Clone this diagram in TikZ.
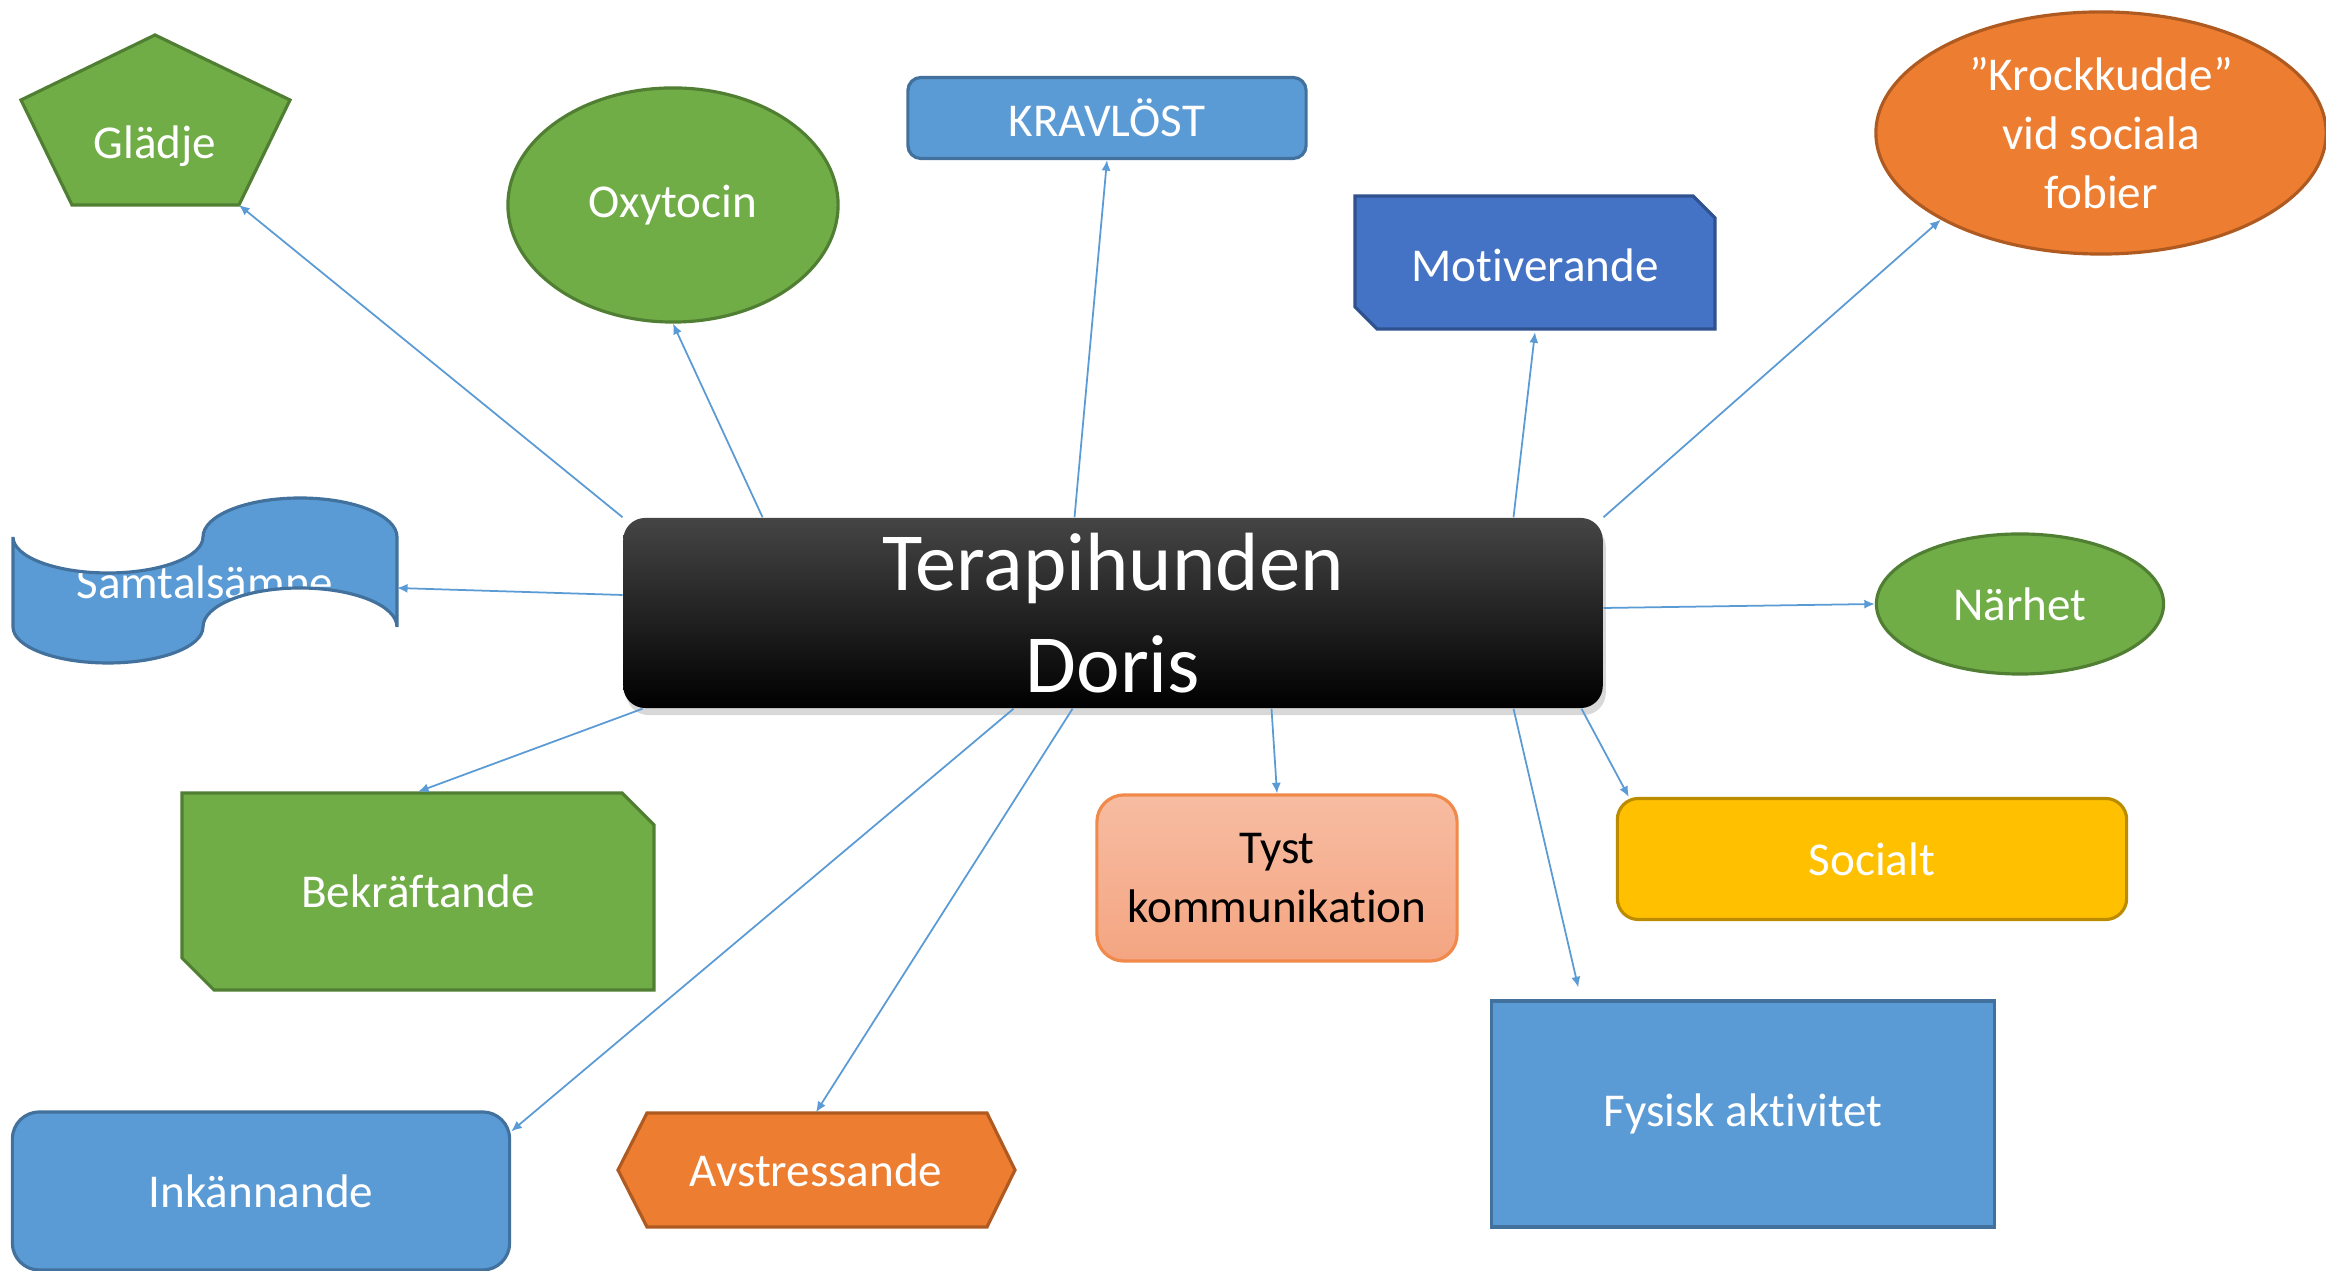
\documentclass[tikz,border=0pt]{standalone}
\usepackage{fontspec}
\setmainfont[Ligatures={NoCommon}]{Carlito}
\usetikzlibrary{shapes.geometric, arrows.meta, positioning, calc, shadows}
\definecolor{leafgreen}{HTML}{70AD47}
\definecolor{leafgreendark}{HTML}{507E32}
\definecolor{skyblue}{HTML}{5B9BD5}
\definecolor{skybluedark}{HTML}{41719C}
\definecolor{royalblue}{HTML}{4472C4}
\definecolor{royalbluedark}{HTML}{2F528F}
\definecolor{tangerine}{HTML}{ED7D31}
\definecolor{tangerinedark}{HTML}{AE5A21}
\definecolor{sungold}{HTML}{FFC000}
\definecolor{sungolddark}{HTML}{BC8C00}
\definecolor{peachtop}{HTML}{F7BCA2}
\definecolor{peachbottom}{HTML}{F4A581}
\definecolor{peachdark}{HTML}{F0894A}
% outline of the wavy banner
\newcommand{\samtalwave}{(13,537) arc[start angle=180, end angle=0, x radius=95, y radius=36]
    arc[start angle=180, end angle=360, x radius=97, y radius=39] -- (397,627)
    arc[start angle=360, end angle=180, x radius=97, y radius=39]
    arc[start angle=0, end angle=180, x radius=95, y radius=36] -- cycle}

\begin{document}
\begin{tikzpicture}[x=0.01cm, y=-0.01cm]
        \tikzstyle{txt} = [text=white, font=\fontsize{13.4}{16.7}\selectfont, align=center, inner sep=0pt]
        \tikzstyle{idea} = [txt, line width=0.9pt]
        \tikzstyle{link} = [draw=skyblue, line width=0.5pt, -{Latex[length=3pt,width=2.6pt]}]

        \useasboundingbox[fill=white] (0,0) rectangle (2326,1271);

        % the dog in the middle
        \node[rectangle, rounded corners=0.22cm, minimum width=9.79cm, minimum height=1.90cm,
              top color=black!73, middle color=black, bottom color=black,
              drop shadow={shadow xshift=0.03cm, shadow yshift=-0.07cm, opacity=0.3},
              text=white, align=center, font=\fontsize{23.5}{29}\selectfont]
              (doris) at (1113,613) {Terapihunden\\Doris};

        % ellipses and boxes
        \node[idea, ellipse, fill=leafgreen, draw=leafgreendark, minimum width=3.30cm, minimum height=2.34cm] (oxy) at (673,205) {Oxytocin};
        \node[idea, rectangle, rounded corners=0.13cm, fill=skyblue, draw=skybluedark, minimum width=3.98cm, minimum height=0.81cm] (krav) at (1107,118) {KRAVLÖST};
        \node[idea, ellipse, fill=tangerine, draw=tangerinedark, minimum width=4.50cm, minimum height=2.42cm] (krock) at (2101,133) {”Krockkudde”\\vid sociala\\fobier};
        \node[idea, ellipse, fill=leafgreen, draw=leafgreendark, minimum width=2.87cm, minimum height=1.40cm] (narhet) at (2020,604) {Närhet};
        \node[idea, rectangle, rounded corners=0.21cm, fill=sungold, draw=sungolddark, minimum width=5.09cm, minimum height=1.21cm] (soc) at (1872,859) {Socialt};
        \node[idea, rectangle, rounded corners=0.27cm, top color=peachtop, bottom color=peachbottom, draw=peachdark, text=black, minimum width=3.60cm, minimum height=1.66cm] (tyst) at (1277,878) {Tyst\\kommunikation};
        \node[idea, rectangle, fill=skyblue, draw=skybluedark, minimum width=5.02cm, minimum height=2.26cm] (fys) at (1743,1114) {Fysisk aktivitet};
        \node[idea, rectangle, rounded corners=0.27cm, fill=skyblue, draw=skybluedark, minimum width=4.97cm, minimum height=1.58cm] (ink) at (261,1191) {Inkännande};

        % shapes drawn as paths
        \draw[line width=0.9pt, fill=leafgreen, draw=leafgreendark] (155,35) -- (290,100) -- (239,205) coordinate (gladhorn) -- (72,205) -- (21,100) -- cycle;
        \node[txt] (glad) at (155,146) {Glädje};

        \draw[line width=0.9pt, fill=royalblue, draw=royalbluedark] (1355,196) -- (1693,196) -- (1715,218) -- (1715,329) -- (1377,329) -- (1355,307) -- cycle;
        \node[txt, minimum width=3.60cm, minimum height=1.33cm] (motiv) at (1535,265) {Motiverande};

        \draw[line width=0.9pt, fill=leafgreen, draw=leafgreendark] (182,793) -- (622,793) -- (654,825) -- (654,990) -- (214,990) -- (182,958) -- cycle;
        \node[txt, minimum width=4.72cm, minimum height=1.97cm] (bekr) at (418,891) {Bekräftande};

        \draw[line width=0.9pt, fill=tangerine, draw=tangerinedark] (618,1170) -- (647,1113) -- (987,1113) -- (1015,1170) -- (987,1227) -- (647,1227) -- cycle;
        \node[txt, minimum width=3.97cm, minimum height=1.14cm] (avstr) at (816,1170) {Avstressande};

        \fill[skyblue] \samtalwave;
        \node[txt] (samtal) at (205,582) {Samtalsämne};
        \draw[line width=0.9pt, skybluedark] \samtalwave;
        \coordinate (samtalkant) at (397,588);

        % connectors
        \draw[link] (doris.north west) -- (gladhorn);
        \draw[link] ($(doris.north west)+(140,0)$) -- (oxy.south);
        \draw[link] ($(doris.north west)+(452,0)$) -- (krav.south);
        \draw[link] ($(doris.north west)+(891,0)$) -- (motiv.south);
        \draw[link] (doris.north east) -- (krock.south west);
        \draw[link] ($(doris.east)+(0,-5)$) -- (narhet.west);
        \draw[link] ($(doris.south west)+(959,0)$) -- ($(soc.north west)+(13,0)$);
        \draw[link] ($(doris.south west)+(891,0)$) -- ($(fys.north west)+(88,-12)$);
        \draw[link] ($(doris.south west)+(649,0)$) -- (tyst.north);
        \draw[link] ($(doris.south west)+(450,0)$) -- (avstr.north);
        \draw[link] ($(doris.south west)+(391,0)$) -- ($(ink.north east)+(0,21)$);
        \draw[link] ($(doris.south west)+(20,0)$) -- (bekr.north);
        \draw[link] ($(doris.west)+(0,-18)$) -- (samtalkant);

\end{tikzpicture}
\end{document}
